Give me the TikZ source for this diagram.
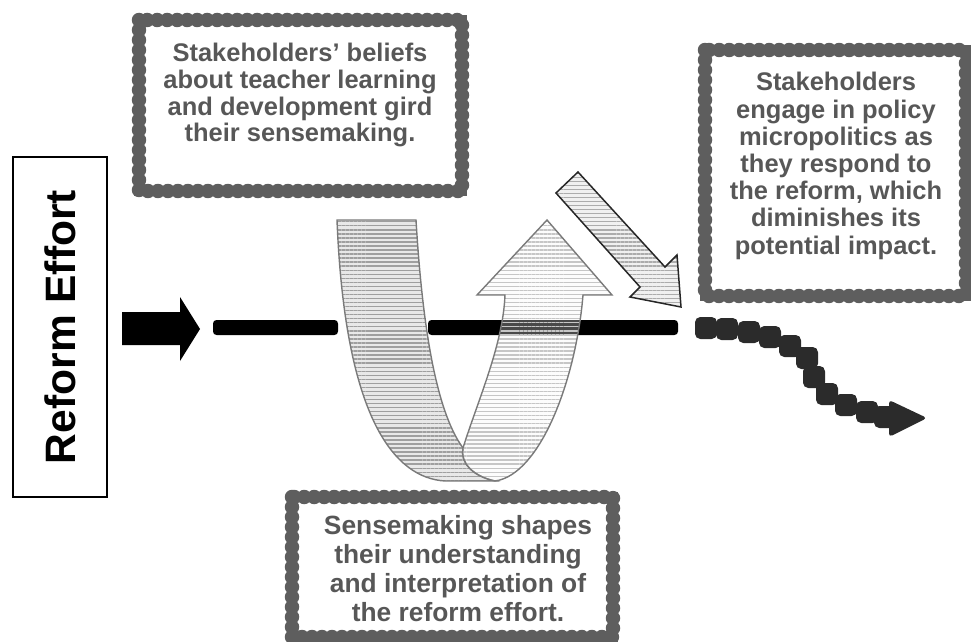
\documentclass[tikz,border=0pt]{standalone}
\usepackage{fontspec}
\setmainfont{Liberation Sans}
\usetikzlibrary{patterns.meta}

\definecolor{beadgray}{HTML}{5E5E5E}
\definecolor{textgray}{HTML}{575757}
\definecolor{squiggle}{HTML}{2B2B2B}
\definecolor{stripline}{HTML}{7A7A7A}

\tikzset{
  beadbox/.style={draw=beadgray, line width=0.2cm,
    postaction={draw=beadgray, line width=0.29cm, line cap=round,
      dash pattern=on 0pt off 0.2cm}},
  boxtext/.style={text=textgray, align=center, inner sep=0pt, anchor=north,
    font=\bfseries\fontsize{14.5}{15.2}\selectfont},
  ribbon/.style={draw=stripline, line width=0.8pt},
  hatch/.style={pattern={Lines[angle=0,distance=2.3pt,line width=0.8pt]}},
}

\begin{document}
\begin{tikzpicture}[x=0.02cm, y=-0.02cm]
   \useasboundingbox (0,0) rectangle (971,642);
   % reform effort label
   \node[draw, line width=1.4pt, rotate=90, minimum width=6.8cm, minimum height=1.88cm,
     inner sep=0pt, font=\bfseries\fontsize{24.2}{26}\selectfont] (reform) at (60,327) {Reform Effort};
   \fill (122,312) -- (180,312) -- (180,297) -- (200,329) -- (180,361) -- (180,345) -- (122,345) -- cycle;
   % the reform line
   \fill[rounded corners=2pt] (213,320) rectangle (338,335);
   \fill[rounded corners=2pt] (428,320) rectangle (678,335);
   % the u-turn
   \draw[ribbon, preaction={fill=gray!18}, hatch, pattern color=gray!75]
    (337,220) -- (416,220) .. controls (422,320) and (435,410) .. (463,448)
    .. controls (460,462) and (472,476) .. (495,481) -- (445,481)
    .. controls (395,478) and (345,420) .. (337,220) -- cycle;
   \draw[ribbon, preaction={fill=gray!8, fill opacity=0.3}, hatch, pattern color=gray!45]
    (477,295) -- (547,220) -- (612,295) -- (583,295)
    .. controls (576,380) and (540,475) .. (495,481)
    .. controls (472,476) and (460,462) .. (463,448)
    .. controls (478,400) and (503,345) .. (505,295) -- cycle;
   \draw[line width=0.85pt, draw=black!85, preaction={fill=gray!12}, hatch, pattern color=gray!65]
    (578,172) -- (665,267) -- (677,255) -- (681,307) -- (630,297) -- (640,287) -- (556,193) -- cycle;
   % micropolitics
   \foreach \bx/\by in {706/328, 727/329, 749/332, 770/337, 790/346, 807/358,
       814/377, 827/394, 846/405, 867/412, 885/417}
     \fill[squiggle, rounded corners=3pt] ({\bx-11},{\by-11}) rectangle ({\bx+11},{\by+11});
   \fill[squiggle, rounded corners=2pt] (889,400) -- (927,418) -- (889,437) -- cycle;
   % boxes
   \draw[beadbox] (139,20) rectangle (462,191);
   \draw[beadbox] (705,50) rectangle (966,296);
   \draw[beadbox] (292,497) rectangle (613,637);
   \node[boxtext] (beliefs) at (300,43)
     {Stakeholders’ beliefs\\about teacher learning\\and development gird\\their sensemaking.};
   \node[boxtext, font=\bfseries\fontsize{14.5}{15.5}\selectfont] (politics) at (836,72)
     {Stakeholders\\engage in policy\\micropolitics as\\they respond to\\the reform, which\\diminishes its\\potential impact.};
   \node[boxtext, font=\bfseries\fontsize{15}{16.5}\selectfont] (sense) at (458,515)
     {Sensemaking shapes\\their understanding\\and interpretation of\\the reform effort.};
  \end{tikzpicture}
\end{document}
